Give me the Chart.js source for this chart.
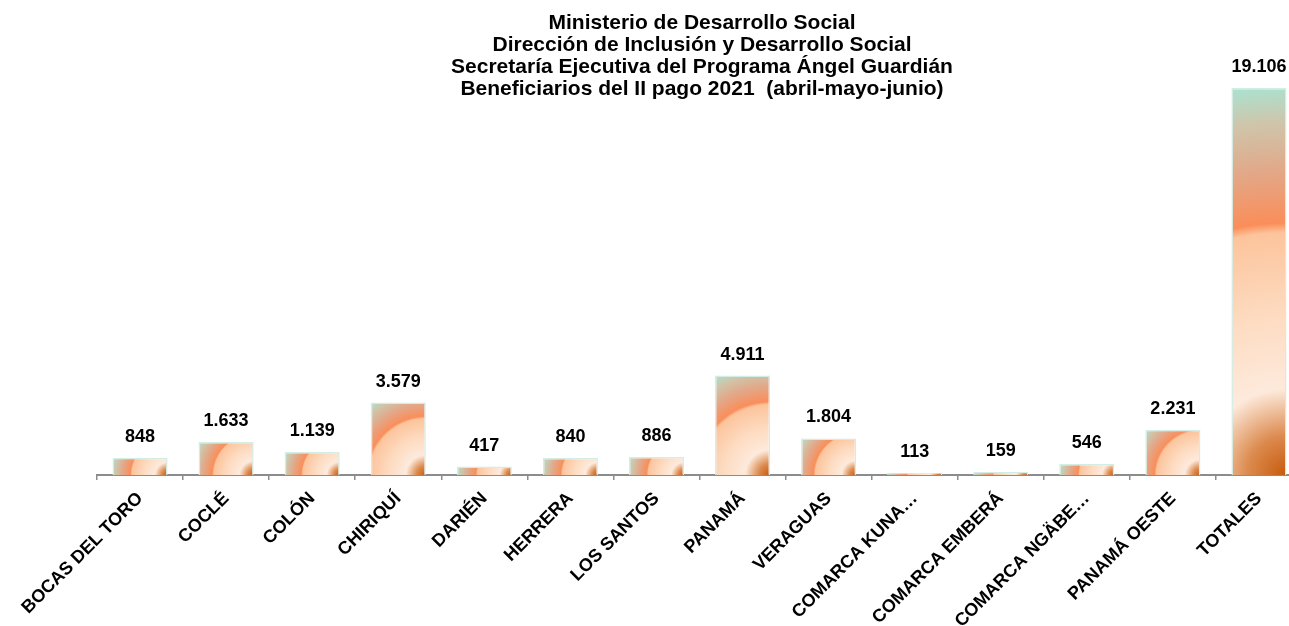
<!DOCTYPE html>
<html>
<head>
<meta charset="utf-8">
<script src="https://cdn.jsdelivr.net/npm/chart.js@4"></script>
<style>
  html, body { margin: 0; padding: 0; background: #fff; overflow: hidden; }
  #wrap { width: 1310px; height: 626px; }
</style>
</head>
<body>
<div id="wrap"><canvas id="chart_beneficiarios"></canvas></div>
<script>
const labels = ['BOCAS DEL TORO', 'COCLÉ', 'COLÓN', 'CHIRIQUÍ', 'DARIÉN', 'HERRERA', 'LOS SANTOS',
    'PANAMÁ', 'VERAGUAS', 'COMARCA KUNA…', 'COMARCA EMBERÁ', 'COMARCA NGÄBE…', 'PANAMÁ OESTE', 'TOTALES'];
const beneficiarios = [848, 1633, 1139, 3579, 417, 840, 886, 4911, 1804, 113, 159, 546, 2231, 19106];
const titulo = [
    'Ministerio de Desarrollo Social',
    'Dirección de Inclusión y Desarrollo Social',
    'Secretaría Ejecutiva del Programa Ángel Guardián',
    'Beneficiarios del II pago 2021  (abril-mayo-junio)'
];

const barPct = 0.64;
const FONT = '"Liberation Sans", Arial, sans-serif';

// 1.633 style thousands separator
function fmt(v) {
    return String(v).replace(/\B(?=(\d{3})+(?!\d))/g, '.');
}

// gradient like the Excel preset: radial from the bottom-right corner of each bar
function barFill(context) {
    const chart = context.chart;
    const scales = chart.scales;
    if (!chart.chartArea || !scales.x || !scales.y) return '#fcc9a0';
    const i = context.dataIndex;
    const x = scales.x.getPixelForValue(i);
    const w = scales.x.width / labels.length * barPct;
    const top = scales.y.getPixelForValue(context.raw);
    const base = scales.y.getPixelForValue(0);
    const right = x + w / 2;
    const h = base - top;
    const r = Math.max(Math.sqrt(w * w + h * h), 1);
    const g = chart.ctx.createRadialGradient(right, base, 0, right, base, r);
    g.addColorStop(0, '#c65a0c');
    g.addColorStop(0.1, '#dc8a4e');
    g.addColorStop(0.22, '#fdeadc');
    g.addColorStop(0.4, '#fddcc2');
    g.addColorStop(0.62, '#fcc49c');
    g.addColorStop(0.645, '#fa8e5a');
    g.addColorStop(0.78, '#e2a889');
    g.addColorStop(0.9, '#cfc5aa');
    g.addColorStop(1, '#a9e3d2');
    return g;
}

const titlePlugin = {
    id: 'titulo',
    afterDraw(chart) {
        const c = chart.ctx;
        c.save();
        c.fillStyle = '#000';
        c.font = 'bold 21px ' + FONT;
        c.textAlign = 'center';
        c.textBaseline = 'alphabetic';
        titulo.forEach((t, k) => c.fillText(t, 702, 29 + k * 22));
        c.restore();
    }
};

const valuePlugin = {
    id: 'valores',
    afterDatasetsDraw(chart) {
        const c = chart.ctx;
        const meta = chart.getDatasetMeta(0);
        c.save();
        c.fillStyle = '#000';
        c.font = 'bold 18px ' + FONT;
        c.textAlign = 'center';
        c.textBaseline = 'alphabetic';
        meta.data.forEach((bar, i) => {
            c.fillText(fmt(beneficiarios[i]), bar.x, bar.y - 16);
        });
        c.restore();
    }
};

new Chart(document.getElementById('chart_beneficiarios'), {
    type: 'bar',
    data: {
        labels: labels,
        datasets: [
            {
                label: 'Beneficiarios',
                data: beneficiarios,
                backgroundColor: barFill,
                borderColor: '#d3ece4',
                borderWidth: 1.5,
                categoryPercentage: 1,
                barPercentage: barPct
            }
        ]
    },
    options: {
        responsive: true,
        maintainAspectRatio: false,
        animation: false,
        layout: { padding: { left: 97, right: 8, top: 70, bottom: 0 } },
        plugins: {
            legend: { display: false },
            title: { display: false },
            tooltip: { enabled: false }
        },
        scales: {
            x: {
                offset: true,
                grid: {
                    offset: true,
                    drawOnChartArea: false,
                    drawTicks: true,
                    tickLength: 5,
                    color: '#8c8c8c',
                    lineWidth: 1.5
                },
                border: { color: '#8c8c8c', width: 2 },
                ticks: {
                    autoSkip: false,
                    maxRotation: 45,
                    minRotation: 45,
                    padding: 8,
                    color: '#000',
                    font: { family: FONT, size: 18, weight: 'bold' }
                },
                afterFit(scale) { scale.height = 151; }
            },
            y: {
                display: false,
                min: 0,
                max: 20000
            }
        }
    },
    plugins: [titlePlugin, valuePlugin]
});
</script>
</body>
</html>
